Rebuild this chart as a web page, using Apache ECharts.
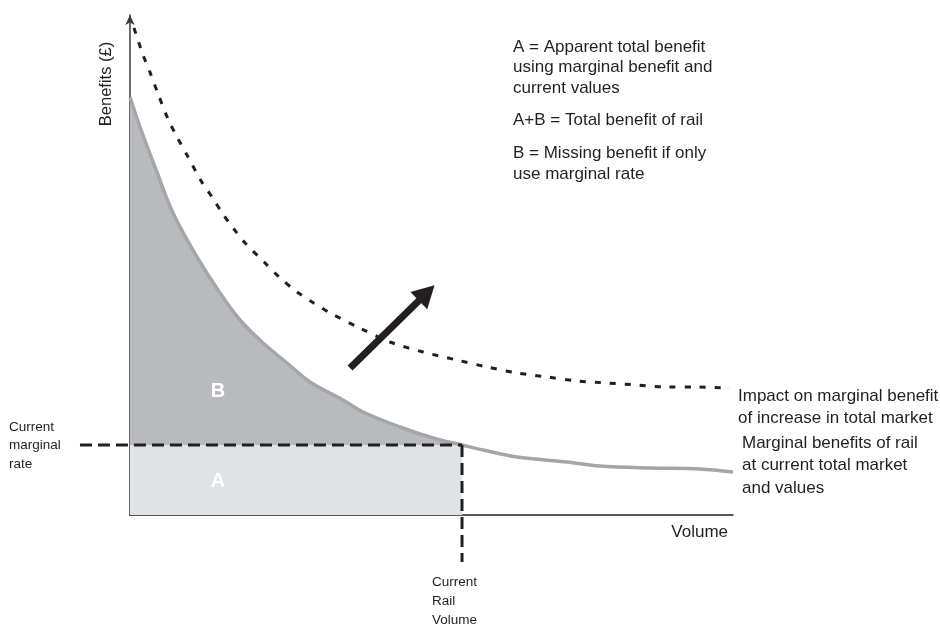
<!DOCTYPE html>
<html>
<head>
<meta charset="utf-8">
<script src="https://cdn.jsdelivr.net/npm/echarts@6/dist/echarts.min.js"></script>
<style>
html,body{margin:0;padding:0;background:#fff;}
#chart{width:940px;height:624px;}
</style>
</head>
<body>
<div id="chart"></div>
<script>
// Marginal benefits of rail at current total market (grey curve)
const marginalVolume  = [0, 1.66, 4.15, 7.13, 11.11, 14.93, 18.24, 22.06, 26.04, 29.85, 35.32, 38.64, 44.78, 50.25, 55.06, 58.54, 64.18, 72.47, 77.94, 86.24, 94.53, 100];
const marginalBenefit = [83.6, 77.6, 69.6, 60.4, 51.6, 44.4, 39, 34.4, 30.4, 26.6, 23, 20.6, 17.6, 15.4, 14, 13, 11.6, 10.6, 9.8, 9.4, 9.2, 8.6];

// Impact on marginal benefit of increase in total market (dashed curve)
const impactVolume  = [0.66, 2.16, 3.3, 4.6, 6.3, 7.8, 9.45, 11.9, 13.6, 15.3, 17.1, 19.1, 22.4, 24.9, 27.7, 30.2, 33.2, 38.1, 43.1, 48.6, 54.2, 59.2, 64.2, 69.2, 74.1, 79.1, 84.1, 89.1, 94, 99.5];
const impactBenefit = [97.4, 92, 88.6, 84.4, 79.2, 75.6, 72, 66.6, 63.6, 60.4, 57.4, 54.4, 50.4, 47.4, 44.6, 42.6, 40.4, 37.4, 34.6, 32.6, 31, 29.6, 28.4, 27.6, 26.8, 26.4, 26, 25.6, 25.6, 25.4];

// Current rail volume and current marginal rate
const currentRailVolume = 55.06;
const currentMarginalRate = 14;
const rateLineStart = -8.3;   // dashed guide starts left of the axis
const volumeLineEnd = -9.4;   // dashed guide ends below the axis

// Shift arrow (tail -> head)
const arrowTail = [36.5, 29.4];
const arrowHead = [49.2, 44.4];

const marginalPts = marginalVolume.map((v, i) => [v, marginalBenefit[i]]);
const impactPts = impactVolume.map((v, i) => [v, impactBenefit[i]]);
const bPts = marginalPts.filter(p => p[0] <= currentRailVolume);

const FONT = '"Liberation Sans", Arial, Helvetica, sans-serif';
const INK = '#231f20';
const chart = echarts.init(document.getElementById('chart'), null, {renderer: 'canvas'});

const txt = (x, y, text, size, lh) => ({
  type: 'text', x: x, y: y, silent: true,
  style: {text: text, font: size + 'px ' + FONT, fill: INK, lineHeight: lh, textVerticalAlign: 'top'}
});

// guide segments: [x1, y1, x2, y2]
const guideSegments = [
  [rateLineStart, currentMarginalRate, currentRailVolume, currentMarginalRate],
  [currentRailVolume, currentMarginalRate, currentRailVolume, volumeLineEnd]
];

chart.setOption({
  animation: false,
  backgroundColor: '#ffffff',
  grid: {left: 130, top: 15, width: 603, height: 500, containLabel: false},
  xAxis: {
    type: 'value', min: 0, max: 100,
    axisLine: {show: true, onZero: false, lineStyle: {color: INK, width: 1.5}},
    axisTick: {show: false}, axisLabel: {show: false}, splitLine: {show: false}
  },
  yAxis: {
    type: 'value', min: 0, max: 100,
    axisLine: {show: true, onZero: false, symbol: ['none', 'arrow'], symbolSize: [7, 10],
      lineStyle: {color: '#3a3a3a', width: 1.5}},
    axisTick: {show: false}, axisLabel: {show: false}, splitLine: {show: false}
  },
  series: [
    { // area B
      type: 'line', data: bPts, smooth: 0.35, symbol: 'none', silent: true,
      lineStyle: {width: 0}, areaStyle: {color: '#b9babd', opacity: 1}, z: 1
    },
    { // area A
      type: 'line', data: [[0, currentMarginalRate], [currentRailVolume, currentMarginalRate]],
      symbol: 'none', silent: true,
      lineStyle: {width: 0}, areaStyle: {color: '#e1e2e4', opacity: 1}, z: 2
    },
    { // grey marginal curve
      type: 'line', data: marginalPts, smooth: 0.35, symbol: 'none', silent: true,
      lineStyle: {color: '#a5a6a9', width: 3.5}, z: 3
    },
    { // dashed guides for current marginal rate / current rail volume
      type: 'custom', data: guideSegments, clip: false, silent: true, z: 4,
      encode: {x: [0, 2], y: [1, 3]},
      renderItem: function (params, api) {
        const p1 = api.coord([api.value(0), api.value(1)]);
        const p2 = api.coord([api.value(2), api.value(3)]);
        return {
          type: 'line',
          shape: {x1: p1[0], y1: p1[1], x2: p2[0], y2: p2[1]},
          style: {stroke: INK, lineWidth: 3, lineDash: [12, 6], lineCap: 'butt', fill: null}
        };
      }
    },
    { // impact dashed curve + arrow
      type: 'line', data: impactPts, smooth: 0.3, symbol: 'none', silent: true, clip: false,
      lineStyle: {color: INK, width: 3, type: [6, 9], cap: 'butt'}, z: 5,
      markLine: {
        silent: true, symbol: ['none', 'triangle'], symbolSize: [24, 22],
        label: {show: false},
        lineStyle: {color: INK, width: 7, type: 'solid'},
        data: [[{coord: arrowTail}, {coord: arrowHead}]]
      }
    }
  ],
  graphic: [
    {type: 'text', x: 106, y: 84, rotation: Math.PI / 2, silent: true,
      style: {text: 'Benefits (£)', font: '16.5px ' + FONT, fill: INK, textAlign: 'center', textVerticalAlign: 'middle'}},
    txt(513, 37, 'A = Apparent total benefit\nusing marginal benefit and\ncurrent values', 17, 20.5),
    txt(513, 110, 'A+B = Total benefit of rail', 17, 20.5),
    txt(513, 143, 'B = Missing benefit if only\nuse marginal rate', 17, 21),
    txt(738, 385, 'Impact on marginal benefit\nof increase in total market', 17, 22),
    txt(742, 432, 'Marginal benefits of rail\nat current total market\nand values', 17, 22.5),
    {type: 'text', x: 728, y: 532, silent: true,
      style: {text: 'Volume', font: '17px ' + FONT, fill: INK, textAlign: 'right', textVerticalAlign: 'middle'}},
    txt(9, 418, 'Current\nmarginal\nrate', 13.5, 18.5),
    txt(432, 573, 'Current\nRail\nVolume', 13.5, 19),
    {type: 'text', x: 218, y: 391, silent: true,
      style: {text: 'B', font: 'bold 20px ' + FONT, fill: '#ffffff', textAlign: 'center', textVerticalAlign: 'middle'}, z: 10},
    {type: 'text', x: 218, y: 481, silent: true,
      style: {text: 'A', font: 'bold 20px ' + FONT, fill: '#ffffff', textAlign: 'center', textVerticalAlign: 'middle'}, z: 10}
  ]
});
</script>
</body>
</html>
